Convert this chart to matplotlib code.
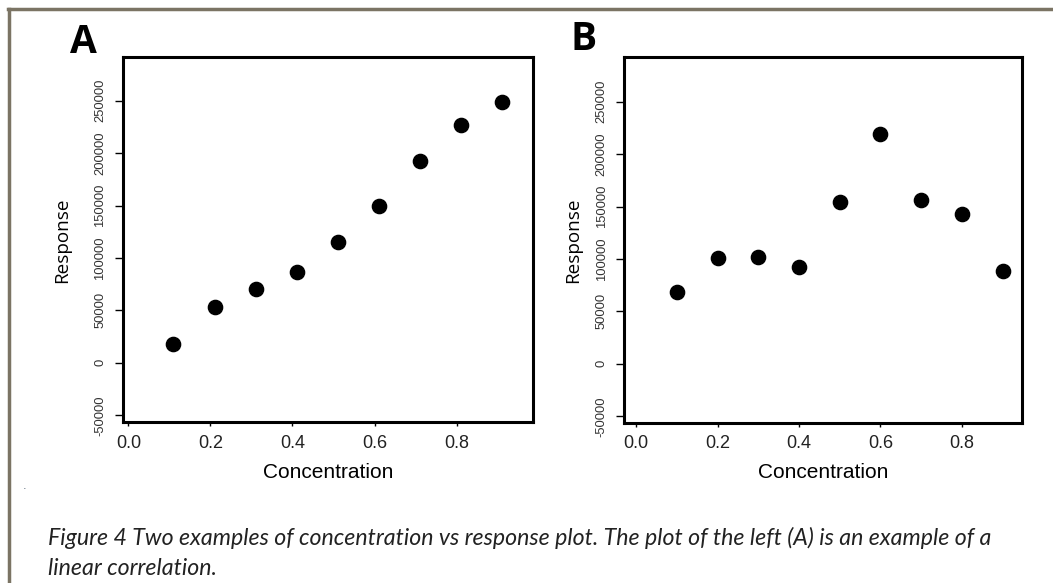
import matplotlib.pyplot as plt
from matplotlib.lines import Line2D

# data
conc_a = [0.11, 0.21, 0.31, 0.41, 0.51, 0.61, 0.71, 0.81, 0.91]
resp_a = [17800, 53700, 70300, 86800, 114800, 149500, 192500, 227100, 248400]

conc_b = [0.1, 0.2, 0.3, 0.4, 0.5, 0.6, 0.7, 0.8, 0.9]
resp_b = [68400, 101400, 102100, 92600, 153900, 218800, 156500, 142500, 88100]

x_ticks = [0.0, 0.2, 0.4, 0.6, 0.8]
y_ticks = [-50000, 0, 50000, 100000, 150000, 200000, 250000]

caption_1 = ("Figure 4 Two examples of concentration vs response plot. "
             "The plot of the left (A) is an example of a")
caption_2 = "linear correlation."

W, H = 1053, 583


def px(x, y):
    # pixel position (top-left origin) -> figure fraction
    return x / W, 1 - y / H


def panel(fig, rect, xs, ys, xlim, ylim, label, label_xy, ylab_x):
    ax = fig.add_axes(rect)
    ax.scatter(xs, ys, s=105, color="black", zorder=3)
    ax.set_xlim(*xlim)
    ax.set_ylim(*ylim)
    ax.set_xticks(x_ticks)
    ax.set_xticklabels(["%.1f" % t for t in x_ticks], family="Liberation Sans",
                       fontsize=13, color="#222222")
    ax.set_yticks(y_ticks)
    ax.set_yticklabels([str(t) for t in y_ticks], rotation=90, va="center",
                       family="Liberation Sans", fontsize=9.4, color="#333333")
    ax.tick_params(axis="x", length=3, width=1, pad=6)
    ax.tick_params(axis="y", length=5.5, width=1, pad=6.5)
    for sp in ax.spines.values():
        sp.set_linewidth(2.2)
    ax.set_xlabel("Concentration", family="Liberation Sans", fontsize=15,
                  labelpad=8)
    fig.text(*px(ylab_x, 240), "Response", rotation=90, ha="center",
             va="center", family="Open Sans", fontsize=13.6)
    fig.text(*px(*label_xy), label, family="Open Sans", fontweight="bold",
             fontsize=28, ha="left", va="baseline")
    return ax


fig = plt.figure(figsize=(W / 100, H / 100), dpi=100)
fig.patch.set_facecolor("white")

panel(fig, [123 / W, 1 - 422 / H, 410 / W, 365 / H], conc_a, resp_a,
      (-0.013, 0.986), (-56400, 291700), "A", (70, 53), 62)
panel(fig, [624.3 / W, 1 - 422.7 / H, 397.4 / W, 366 / H], conc_b, resp_b,
      (-0.0295, 0.947), (-56100, 292900), "B", (571, 50), 573)

# caption
for line, base in [(caption_1, 545), (caption_2, 575)]:
    fig.text(*px(48, base), line, family="Lato", style="italic",
             fontsize=16.7, color="#222222", ha="left", va="baseline")
fig.text(*px(23, 489), ".", color="#556677", fontsize=8)

# page frame (top and left edges)
frame = "#7b7464"
fig.add_artist(Line2D([8 / W, 1], [1 - 9 / H, 1 - 9 / H], color=frame, lw=2.5,
                      transform=fig.transFigure))
fig.add_artist(Line2D([9 / W, 9 / W], [0, 1 - 9 / H], color=frame, lw=2.5,
                      transform=fig.transFigure))

fig.savefig("out.png", dpi=100)
